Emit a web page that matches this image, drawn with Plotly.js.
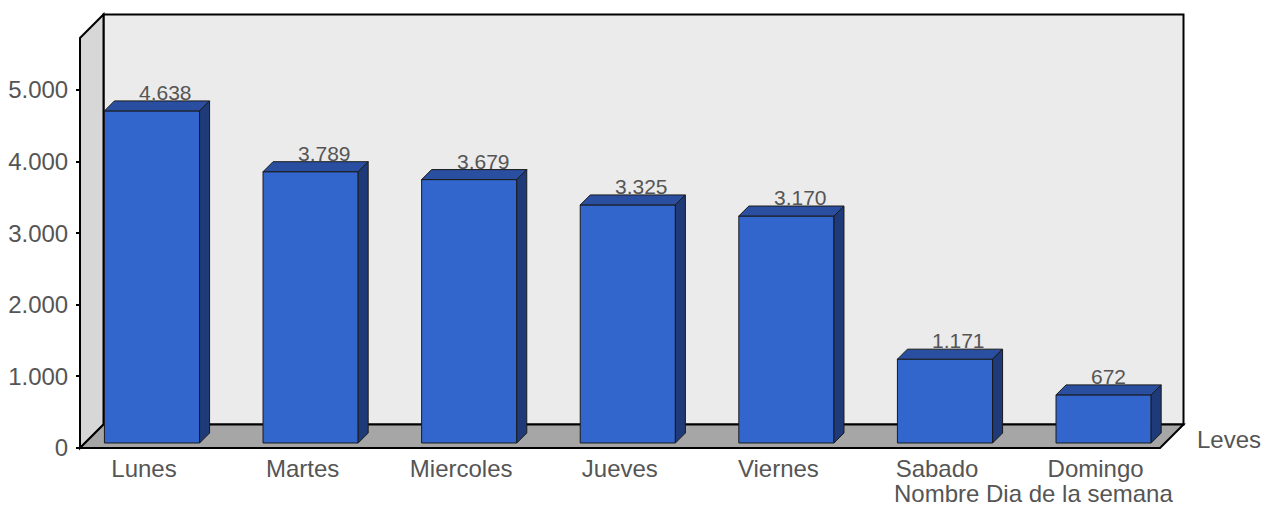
<!DOCTYPE html>
<html>
<head>
<meta charset="utf-8">
<script src="https://cdn.plot.ly/plotly-3.0.1.min.js"></script>
<style>html,body{margin:0;padding:0;background:#fff;}#chart{width:1262px;height:506px;}</style>
</head>
<body>
<div id="chart"></div>
<script>
// ---- data ----
const days = ['Lunes', 'Martes', 'Miercoles', 'Jueves', 'Viernes', 'Sabado', 'Domingo'];
const leves = [4638, 3789, 3679, 3325, 3170, 1171, 672];
const yTickVals = [0, 1000, 2000, 3000, 4000, 5000];
const seriesName = 'Leves';
const xTitle = 'Nombre Dia de la semana';

// ---- geometry (layout only) ----
const W = 1262, H = 506;
const plotL = 74, plotR = 1190, plotT = 8, plotB = 454;
const frontL = 80, frontR = 1160, frontT = 38, frontB = 448;
const pxPerX = 158.6, pxPerY = 0.0716;
const firstCenterPx = 147;
const XL = (frontL - firstCenterPx) / pxPerX;      // front-left in data
const XR = (frontR - firstCenterPx) / pxPerX;      // front-right in data
const YT = (frontB - frontT) / pxPerY;             // front-top in data
const xRange = [XL - (frontL - plotL) / pxPerX, XL + (plotR - frontL) / pxPerX];
const yRange = [-(plotB - frontB) / pxPerY, (frontB - plotT) / pxPerY];
const wallD = 23.5;
const Dx = wallD / pxPerX, Dy = wallD / pxPerY;
const barHalf = 0.3;
const d1 = 5, d2 = 15;
const d1x = d1 / pxPerX, d1y = d1 / pxPerY, d2x = d2 / pxPerX, d2y = d2 / pxPerY;

const FONT = 'Liberation Sans, Arial, Helvetica, sans-serif';
const TXT = '#555555';

const idx = days.map((d, i) => i);

function poly(pts) {
  return 'M ' + pts.map(p => p[0] + ',' + p[1]).join(' L ') + ' Z';
}

const shapes = [];
// back wall
shapes.push({type: 'path', xref: 'x', yref: 'y', layer: 'below',
  path: poly([[XL + Dx, Dy], [XR + Dx, Dy], [XR + Dx, YT + Dy], [XL + Dx, YT + Dy]]),
  fillcolor: '#ebebeb', line: {color: '#000', width: 2}});
// left wall
shapes.push({type: 'path', xref: 'x', yref: 'y', layer: 'below',
  path: poly([[XL, 0], [XL, YT], [XL + Dx, YT + Dy], [XL + Dx, Dy]]),
  fillcolor: '#d7d7d7', line: {color: '#000', width: 2}});
// floor
shapes.push({type: 'path', xref: 'x', yref: 'y', layer: 'below',
  path: poly([[XL, 0], [XR, 0], [XR + Dx, Dy], [XL + Dx, Dy]]),
  fillcolor: '#a6a6a6', line: {color: '#000', width: 2}});

// bar top and side faces
idx.forEach(i => {
  const v = leves[i];
  const l = i - barHalf, r = i + barHalf;
  shapes.push({type: 'path', xref: 'x', yref: 'y', layer: 'above',
    path: poly([[l + d1x, v + d1y], [r + d1x, v + d1y], [r + d2x, v + d2y], [l + d2x, v + d2y]]),
    fillcolor: '#2a4fa0', line: {color: '#1a1a1a', width: 1}});
  shapes.push({type: 'path', xref: 'x', yref: 'y', layer: 'above',
    path: poly([[r + d1x, d1y], [r + d1x, v + d1y], [r + d2x, v + d2y], [r + d2x, d2y]]),
    fillcolor: '#1f3a78', line: {color: '#1a1a1a', width: 1}});
});

const fmt = n => n.toString().replace(/\B(?=(\d{3})+(?!\d))/g, '.');

const annotations = idx.map(i => ({
  xref: 'x', yref: 'y', x: i - barHalf + d1x, y: leves[i] + d2y,
  xanchor: 'left', yanchor: 'bottom', xshift: 33, yshift: -5,
  text: fmt(leves[i]), showarrow: false,
  font: {family: FONT, size: 21, color: TXT}
}));
annotations.push({
  xref: 'paper', yref: 'paper', x: (1195 - plotL) / (plotR - plotL), y: (plotB - 448) / (plotB - plotT),
  xanchor: 'left', yanchor: 'bottom', yshift: -7,
  text: seriesName, showarrow: false, font: {family: FONT, size: 24, color: TXT}
});
annotations.push({
  xref: 'paper', yref: 'paper', x: (1175 - plotL) / (plotR - plotL), y: 0,
  xanchor: 'right', yanchor: 'top', yshift: -24,
  text: xTitle, showarrow: false, font: {family: FONT, size: 24, color: TXT}
});

const trace = {
  type: 'bar', name: seriesName,
  x: idx.map(i => i + d1x), y: leves, base: d1y, width: 2 * barHalf,
  marker: {color: '#3366cc', line: {color: '#1a1a1a', width: 1}},
  hoverinfo: 'skip', showlegend: false
};

const layout = {
  width: W, height: H,
  margin: {l: plotL, r: W - plotR, t: plotT, b: H - plotB, pad: 0},
  paper_bgcolor: '#ffffff', plot_bgcolor: 'rgba(0,0,0,0)',
  separators: ',.',
  showlegend: false,
  xaxis: {
    range: xRange, showgrid: false, zeroline: false, showline: false,
    tickmode: 'array', tickvals: idx, ticktext: days, ticks: '',
    anchor: 'free', position: (plotB - frontB) / (plotB - plotT),
    ticklabelshift: -3, ticklabelstandoff: 4,
    tickfont: {family: FONT, size: 24, color: TXT}
  },
  yaxis: {
    range: yRange, showgrid: false, zeroline: false, showline: false,
    tickmode: 'array', tickvals: yTickVals, tickformat: ',d',
    ticks: 'outside', ticklen: 4, tickwidth: 2, tickcolor: '#000',
    anchor: 'free', position: (frontL - plotL) / (plotR - plotL),
    ticklabelstandoff: 3,
    tickfont: {family: FONT, size: 24, color: TXT}
  },
  shapes: shapes,
  annotations: annotations
};

Plotly.newPlot('chart', [trace], layout, {displayModeBar: false, staticPlot: true});
</script>
</body>
</html>
